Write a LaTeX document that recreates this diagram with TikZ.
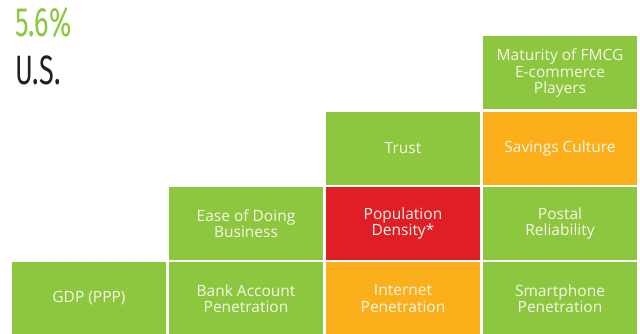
\documentclass[tikz,border=0pt]{standalone}
\usepackage{fontspec}
\setmainfont{Open Sans}
\newfontfamily\condfont[FakeStretch=0.66]{Fira Sans}
\definecolor{cgreen}{HTML}{8DC63F}
\definecolor{corange}{HTML}{FAAF1B}
\definecolor{cred}{HTML}{E01E26}
\definecolor{ctext}{HTML}{F6F7E8}
\definecolor{cdark}{HTML}{231F20}
\begin{document}
\begin{tikzpicture}[x=1pt,y=-1pt,
  cell/.style={minimum width=154pt,minimum height=73pt,inner sep=0pt,
    text=ctext,align=center,font=\fontsize{15.5}{16.5}\selectfont},
  gcell/.style={cell,fill=cgreen},
  ocell/.style={cell,fill=corange},
  rcell/.style={cell,fill=cred},
  title/.style={anchor=base west,inner sep=0pt,font=\condfont\fontsize{41}{41}\selectfont}]
\useasboundingbox (0,0) rectangle (640,334);
\node[title,text=cgreen] (pct) at (15,37) {5.6\%};
\node[title,text=cdark] (us) at (15,85) {U.S.};
% row 1
\node[gcell] (fmcg) at (560,73) {Maturity of FMCG\\E-commerce\\Players};
% row 2
\node[gcell] (trust) at (403,148.5) {Trust};
\node[ocell] (savings) at (560,148.5) {Savings Culture};
% row 3
\node[gcell] (ease) at (246,223.5) {Ease of Doing\\Business};
\node[rcell] (pop) at (403,223.5) {Population\\Density*};
\node[gcell] (postal) at (560,223.5) {Postal\\Reliability};
% row 4
\node[gcell] (gdp) at (89,298.5) {GDP (PPP)};
\node[gcell] (bank) at (246,298.5) {Bank Account\\Penetration};
\node[ocell] (internet) at (403,298.5) {Internet\\Penetration};
\node[gcell] (smart) at (560,298.5) {Smartphone\\Penetration};
\end{tikzpicture}
\end{document}
